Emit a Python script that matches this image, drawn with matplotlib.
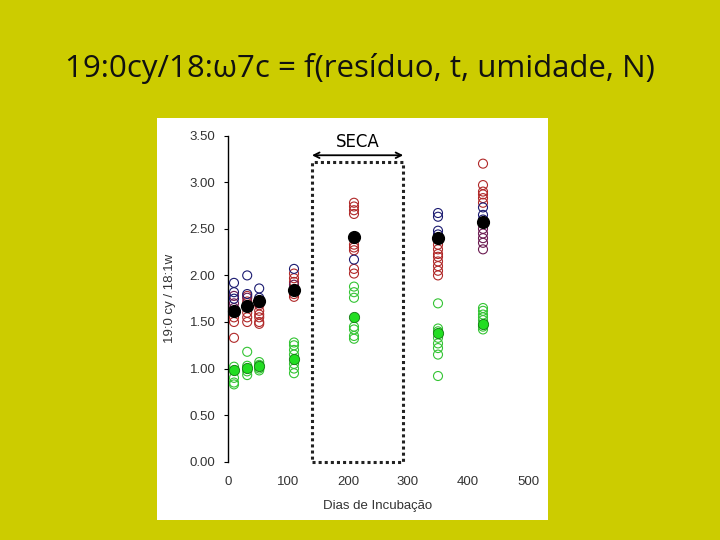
import matplotlib.pyplot as plt
from matplotlib.patches import Rectangle

# dias de incubacao
dias = [10, 32, 52, 110, 210, 350, 425]

# pontos individuais por cor (dia, valor)
azul = [(10, 1.92), (10, 1.82), (10, 1.75), (32, 2.00), (32, 1.80),
        (52, 1.86), (52, 1.76), (110, 2.07), (210, 2.17),
        (350, 2.67), (350, 2.63), (350, 2.48), (350, 2.44),
        (425, 2.73), (425, 2.65), (425, 2.60)]
vermelho = [(10, 1.55), (10, 1.50), (10, 1.33), (32, 1.78), (32, 1.72),
            (32, 1.60), (32, 1.55), (32, 1.50), (52, 1.68), (52, 1.62),
            (52, 1.58), (52, 1.55), (52, 1.50), (52, 1.48),
            (110, 2.02), (110, 1.97), (110, 1.93), (110, 1.80), (110, 1.77),
            (210, 2.78), (210, 2.74), (210, 2.70), (210, 2.66),
            (210, 2.33), (210, 2.30), (210, 2.27), (210, 2.07), (210, 2.02),
            (350, 2.33), (350, 2.28), (350, 2.23), (350, 2.20), (350, 2.15),
            (350, 2.10), (350, 2.05), (350, 2.00),
            (425, 3.20), (425, 2.97), (425, 2.90), (425, 2.87),
            (425, 2.83), (425, 2.78)]
roxo = [(10, 1.78), (10, 1.70), (10, 1.65), (32, 1.76), (52, 1.70),
        (110, 1.90), (110, 1.85), (425, 2.50), (425, 2.45), (425, 2.40),
        (425, 2.35), (425, 2.28)]
verde = [(10, 1.02), (10, 0.98), (10, 0.90), (10, 0.85), (10, 0.83),
         (32, 1.18), (32, 1.03), (32, 0.97), (32, 0.93),
         (52, 1.07), (52, 1.04), (52, 1.00), (52, 0.98),
         (110, 1.28), (110, 1.25), (110, 1.20), (110, 1.15), (110, 1.05),
         (110, 1.00), (110, 0.95),
         (210, 1.88), (210, 1.82), (210, 1.76), (210, 1.45), (210, 1.42),
         (210, 1.35), (210, 1.32),
         (350, 1.70), (350, 1.43), (350, 1.40), (350, 1.33), (350, 1.27),
         (350, 1.22), (350, 1.15), (350, 0.92),
         (425, 1.65), (425, 1.62), (425, 1.58), (425, 1.55), (425, 1.52),
         (425, 1.45), (425, 1.42)]

# medias
media_preta = [1.62, 1.67, 1.72, 1.84, 2.41, 2.40, 2.57]
media_verde = [0.98, 1.01, 1.03, 1.10, 1.55, 1.38, 1.48]

amarelo = '#cccc00'
fig = plt.figure(figsize=(7.2, 5.4), dpi=100)
fig.patch.set_facecolor(amarelo)

# painel branco
fig.patches.append(Rectangle((157 / 720, 1 - 520 / 540), 391 / 720, 402 / 540,
                             transform=fig.transFigure, facecolor='white',
                             edgecolor='none', zorder=-5))

fig.text(0.5, 1 - 68 / 540, '19:0cy/18:\u03c97c = f(resíduo, t, umidade, N)',
         ha='center', va='center', fontsize=22.5, family='Open Sans',
         color='#111111')

ax = fig.add_axes([228 / 720, 1 - 461.7 / 540, 300 / 720, 326 / 540])
ax.set_facecolor('none')
ax.set_xlim(0, 500)
ax.set_ylim(0, 3.5)

for pts, cor in [(verde, '#33c433'), (vermelho, '#b02828'),
                 (roxo, '#6a1a50'), (azul, '#1a1a70')]:
    xs = [p[0] for p in pts]
    ys = [p[1] for p in pts]
    ax.scatter(xs, ys, s=42, facecolors='none', edgecolors=cor,
               linewidths=0.8, zorder=3, clip_on=False)

ax.scatter(dias, media_preta, s=72, color='black', zorder=4, clip_on=False)
ax.scatter(dias, media_verde, s=55, color='#22dd22', edgecolors='#117711',
           linewidths=0.6, zorder=4, clip_on=False)

# caixa SECA
ax.add_patch(Rectangle((140, 0), 152, 3.22, fill=False, linestyle=(0, (1, 1)),
                       linewidth=2.2, edgecolor='#222222', zorder=2,
                       clip_on=False))
ax.annotate('', xy=(140, 3.29), xytext=(292, 3.29),
            arrowprops=dict(arrowstyle='<->', color='black', lw=1.3,
                            shrinkA=0, shrinkB=0), annotation_clip=False)
ax.text(216, 3.43, 'SECA', ha='center', va='center', fontsize=12,
        family='DejaVu Sans')

for s in ['top', 'right', 'bottom']:
    ax.spines[s].set_visible(False)
ax.spines['left'].set_linewidth(1.0)
ax.set_yticks([0, 0.5, 1.0, 1.5, 2.0, 2.5, 3.0, 3.5])
ax.set_yticklabels(['%.2f' % v for v in ax.get_yticks()])
ax.set_xticks([0, 100, 200, 300, 400, 500])
ax.tick_params(axis='y', length=3, width=0.8, labelsize=9.5, pad=6)
ax.tick_params(axis='x', length=0, labelsize=9.5, pad=10)
for lb in ax.get_xticklabels() + ax.get_yticklabels():
    lb.set_family('Liberation Sans')
    lb.set_color('#333333')

ax.set_ylabel('19:0 cy / 18:1w', fontsize=9.5, family='Liberation Sans',
              color='#333333', labelpad=10)
ax.set_xlabel('Dias de Incubação', fontsize=9.5, family='Liberation Sans',
              color='#333333', labelpad=9)

fig.savefig('out.png', dpi=100, facecolor=amarelo)
